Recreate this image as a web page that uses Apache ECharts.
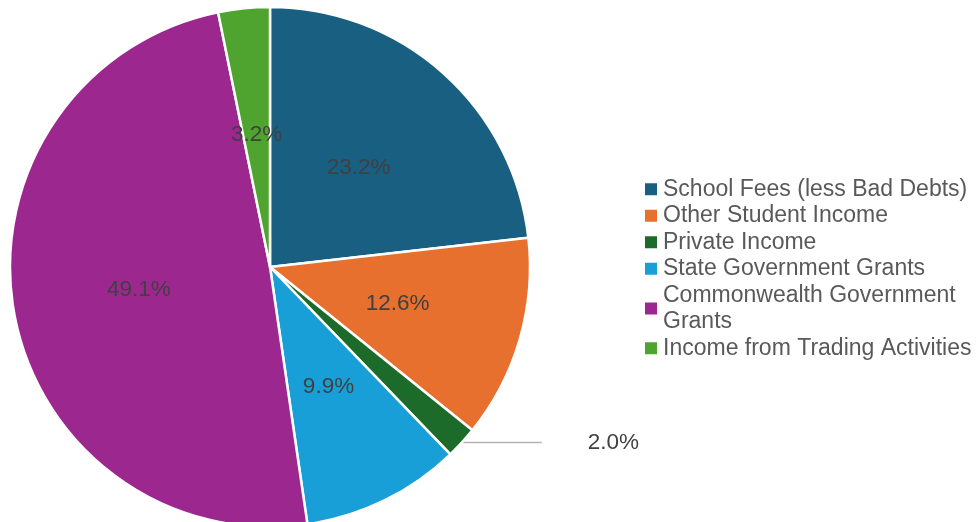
<!DOCTYPE html>
<html><head><meta charset="utf-8">
<script src="https://cdn.jsdelivr.net/npm/echarts@6/dist/echarts.min.js"></script>
<style>html,body{margin:0;padding:0;background:#fff}#c{width:977px;height:522px}</style>
</head><body><div id="c"></div>
<script>
const categories = ['School Fees (less Bad Debts)','Other Student Income','Private Income','State Government Grants','Commonwealth Government Grants','Income from Trading Activities'];
const values = [23.2, 12.6, 2.0, 9.9, 49.1, 3.2];
const colors = ['#195f82','#e8702f','#1d6b2a','#189fd7','#9c288f','#4fa42f'];
const legendLabels = {'Commonwealth Government Grants':'Commonwealth Government\nGrants'};

const data = categories.map((n,i)=>{
  const d = {name:n, value:values[i], itemStyle:{color:colors[i]}};
  if (n === 'Private Income') {
    d.label = {position:'outside', distanceToLabelLine:46};
    d.labelLine = {show:true, length:0, length2:80, lineStyle:{color:'#b3b3b3', width:1.5}};
  }
  return d;
});

const chart = echarts.init(document.getElementById('c'));
chart.setOption({
  animation:false,
  legend:{
    orient:'vertical', left:643, top:176, padding:0,
    itemWidth:14, itemHeight:14, itemGap:0, icon:'rect',
    textStyle:{fontFamily:'Liberation Sans, Arial', fontSize:23, color:'#595959', lineHeight:26.5},
    formatter:n=>legendLabels[n]||n,
    data:categories
  },
  series:[{
    type:'pie', center:[270,267], radius:[0,260], startAngle:90, clockwise:true,
    itemStyle:{borderColor:'#fff', borderWidth:2.5},
    label:{show:true, position:'inside', formatter:p=>p.value.toFixed(1)+'%', fontFamily:'Liberation Sans, Arial', fontSize:22.5, color:'#404040'},
    labelLine:{show:false},
    emphasis:{disabled:true},
    data:data
  }]
});
</script></body></html>
